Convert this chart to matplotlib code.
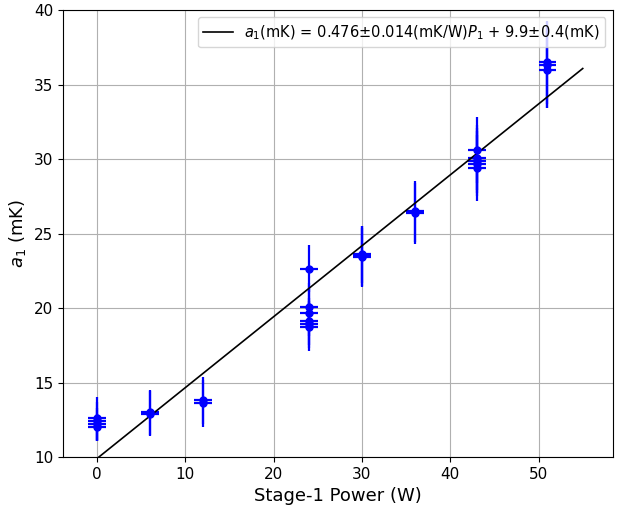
import matplotlib
matplotlib.use("Agg")
import matplotlib.pyplot as plt
import numpy as np

# Stage-1 power groups and measured a1 values (mK)
power = [0, 0, 0, 0,
         6, 6,
         12, 12,
         24, 24, 24, 24, 24, 24,
         30, 30, 30,
         36, 36,
         43, 43, 43, 43, 43,
         51, 51, 51]
a1 = [12.6, 12.4, 12.2, 12.0,
      13.0, 12.9,
      13.8, 13.6,
      22.65, 20.1, 19.7, 19.1, 18.9, 18.75,
      23.6, 23.5, 23.4,
      26.5, 26.35,
      30.6, 30.1, 29.9, 29.7, 29.4,
      36.5, 36.3, 36.0]
a1_err = [1.45, 1.3, 1.1, 0.9,
          1.5, 1.5,
          1.6, 1.6,
          1.55, 1.6, 1.6, 1.6, 1.6, 1.6,
          1.9, 2.0, 2.0,
          2.05, 2.05,
          2.2, 2.2, 2.2, 2.2, 2.2,
          2.8, 2.9, 2.6]
p_err = [1.0] * len(power)

slope = 0.476
intercept = 9.9

fig = plt.figure(figsize=(6.24, 5.05), dpi=100)
ax = fig.add_axes([0.101, 0.095, 0.881, 0.885])

ax.errorbar(power, a1, xerr=p_err, yerr=a1_err, fmt='o', color='blue',
            markersize=5, elinewidth=1.6, capsize=0)

p_fit = np.array([0, 55])
ax.plot(p_fit, slope * p_fit + intercept, color='black', linewidth=1.2,
        label=r'$a_1$(mK) = 0.476$\pm$0.014(mK/W)$P_1$ + 9.9$\pm$0.4(mK)')

ax.set_xlim(-3.85, 58.4)
ax.set_ylim(10, 40)
ax.set_xlabel("Stage-1 Power (W)", fontsize=13)
ax.set_ylabel(r"$a_1$ (mK)", fontsize=13)
ax.tick_params(labelsize=11)
ax.grid(True)
ax.legend(loc="upper right", fontsize=10.5)

fig.savefig("out.png", dpi=100)
